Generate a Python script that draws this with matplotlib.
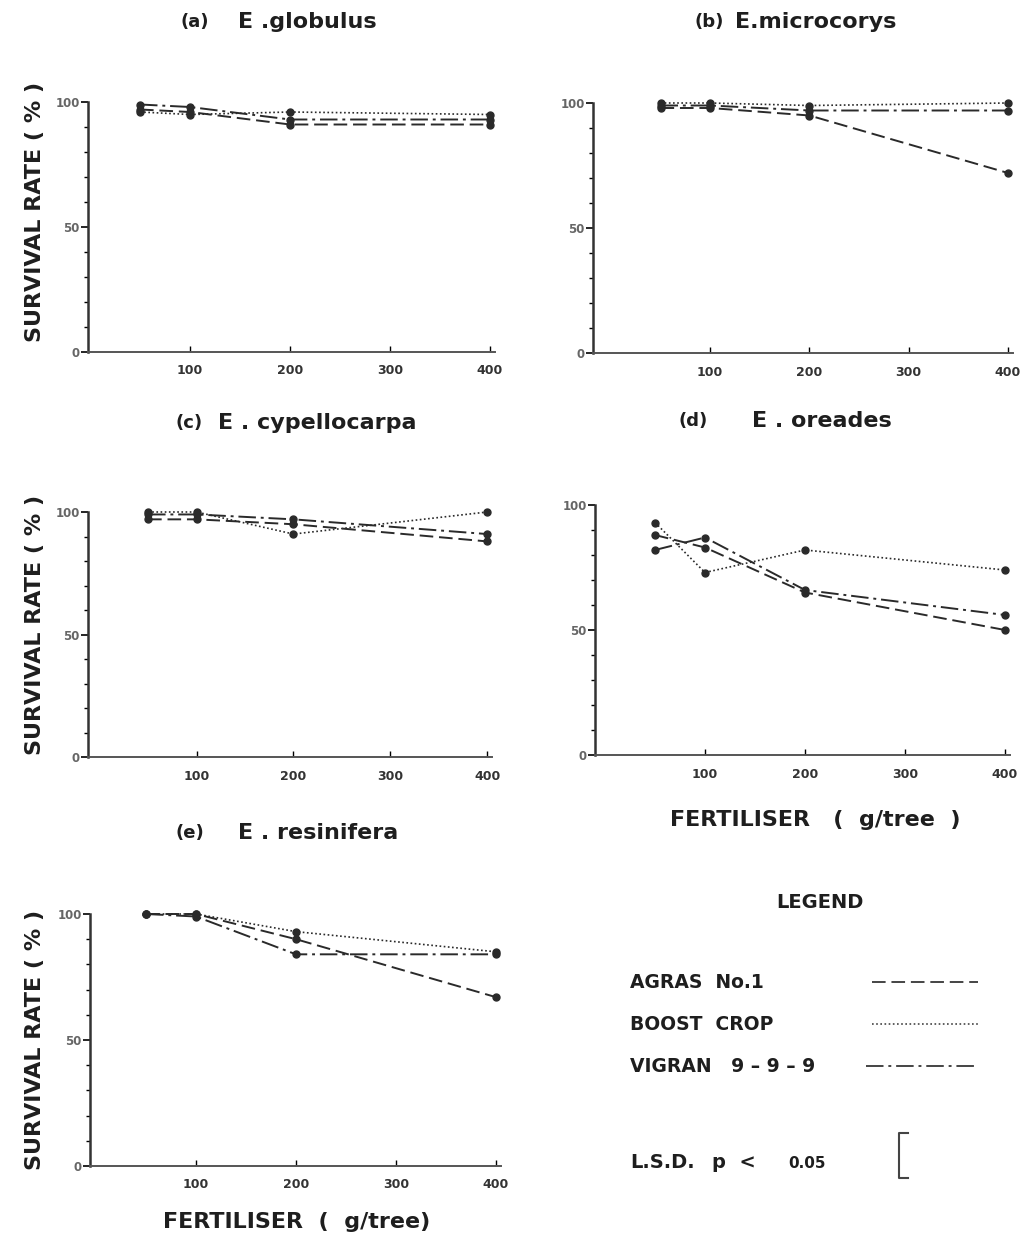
import numpy as np
import matplotlib.pyplot as plt
from matplotlib.lines import Line2D
from matplotlib.ticker import MultipleLocator

# ── Data ─────────────────────────────────────────────
fert = [50, 100, 200, 400]

glob_agras = [97, 96, 91, 91]
glob_boost = [96, 95, 96, 95]
glob_vigran = [99, 98, 93, 93]

micro_agras = [98, 98, 95, 72]
micro_boost = [100, 100, 99, 100]
micro_vigran = [99, 99, 97, 97]

cyp_agras = [97, 97, 95, 88]
cyp_boost = [100, 100, 91, 100]
cyp_vigran = [99, 99, 97, 91]

ore_agras = [88, 83, 65, 50]
ore_boost = [93, 73, 82, 74]
ore_vigran = [82, 87, 66, 56]

res_agras = [100, 100, 90, 67]
res_boost = [100, 100, 93, 85]
res_vigran = [100, 99, 84, 84]

fertilisers = ['AGRAS  No.1', 'BOOST  CROP', 'VIGRAN   9 – 9 – 9']
x_ticks = [100, 200, 300, 400]
y_ticks = [0, 50, 100]

styles = {
    'agras': dict(linestyle=(0, (7, 3)), linewidth=1.4),
    'boost': dict(linestyle=(0, (1, 1.5)), linewidth=1.2),
    'vigran': dict(linestyle=(0, (9, 2.5, 1.5, 2.5)), linewidth=1.4),
}

FONT = 'DejaVu Sans'
INK = '#1e1e1e'

# ── Figure ───────────────────────────────────────────
W, H = 1021, 1247
fig = plt.figure(figsize=(W / 100, H / 100), dpi=100)


def px_axes(left, bottom, right, top):
    return fig.add_axes([left / W, 1 - bottom / H, (right - left) / W, (bottom - top) / H])


def label(x, y, s, size, **kw):
    fig.text(x / W, 1 - y / H, s, fontsize=size, family=FONT, fontweight='bold',
             color=INK, **kw)


panels = [
    # (px box, xlim, series, letter, species, letter x, species x, title y)
    ((88, 352, 495, 102), (-2, 405), (glob_agras, glob_boost, glob_vigran),
     '(a)', 'E .globulus', 180, 238, 22),
    ((593, 353, 1013, 103), (-18, 405), (micro_agras, micro_boost, micro_vigran),
     '(b)', 'E.microcorys', 695, 735, 22),
    ((88, 757, 492, 512), (-12, 405), (cyp_agras, cyp_boost, cyp_vigran),
     '(c)', 'E . cypellocarpa', 175, 218, 423),
    ((595, 755, 1010, 505), (-10, 405), (ore_agras, ore_boost, ore_vigran),
     '(d)', 'E . oreades', 678, 752, 421),
    ((90, 1166, 501, 914), (-6, 405), (res_agras, res_boost, res_vigran),
     '(e)', 'E . resinifera', 175, 238, 833),
]

for box, xlim, series, letter, species, lx, sx, ty in panels:
    ax = px_axes(*box)
    for vals, key in zip(series, ['agras', 'boost', 'vigran']):
        ax.plot(fert, vals, color='#2a2a2a', marker='o', markersize=5,
                clip_on=False, **styles[key])
    ax.set_xlim(*xlim)
    ax.set_ylim(0, 100)
    ax.set_xticks(x_ticks)
    ax.set_yticks(y_ticks)
    ax.yaxis.set_minor_locator(MultipleLocator(10))
    for s in ['top', 'right']:
        ax.spines[s].set_visible(False)
    ax.spines['left'].set_linewidth(1.8)
    ax.spines['bottom'].set_linewidth(1.4)
    ax.spines['left'].set_color('#333333')
    ax.spines['bottom'].set_color('#555555')
    ax.tick_params(axis='y', direction='out', length=5, width=1.2, labelsize=8.5,
                   labelcolor='#666666', pad=1)
    ax.tick_params(axis='y', which='minor', direction='out', length=3, width=1)
    ax.tick_params(axis='x', direction='in', length=4, width=1, labelsize=9,
                   labelcolor='#333333', pad=9)
    for lbl in ax.get_xticklabels() + ax.get_yticklabels():
        lbl.set_fontweight('bold')
    label(lx, ty, letter, 13, va='center', ha='left')
    label(sx, ty, species, 16, va='center', ha='left')

# y labels
for yc in [212, 625, 1040]:
    label(35, yc, 'SURVIVAL RATE ( % )', 16, rotation=90, va='center', ha='center')

# x labels
label(815, 820, 'FERTILISER   (  g/tree  )', 16, ha='center', va='center')
label(297, 1222, 'FERTILISER  (  g/tree)', 16, ha='center', va='center')

# ── Legend ───────────────────────────────────────────
label(820, 903, 'LEGEND', 14, ha='center', va='center')
line_x0 = [872, 872, 866]
for i, (name, key) in enumerate(zip(fertilisers, ['agras', 'boost', 'vigran'])):
    yy = 982 + 42 * i
    label(630, yy, name, 13.5, ha='left', va='center')
    fig.add_artist(Line2D([line_x0[i] / W, 978 / W], [1 - yy / H, 1 - yy / H],
                          color='#444444', transform=fig.transFigure, **styles[key]))

label(630, 1162, 'L.S.D.', 14, ha='left', va='center')
label(712, 1163, 'p  <', 14, ha='left', va='center')
label(788, 1164, '0.05', 11, ha='left', va='center')
fig.add_artist(Line2D([908 / W, 899 / W, 899 / W, 908 / W],
                      [1 - 1133 / H, 1 - 1133 / H, 1 - 1178 / H, 1 - 1178 / H],
                      color='#444444', linewidth=1.5, transform=fig.transFigure))

plt.savefig('out.png', dpi=100)
